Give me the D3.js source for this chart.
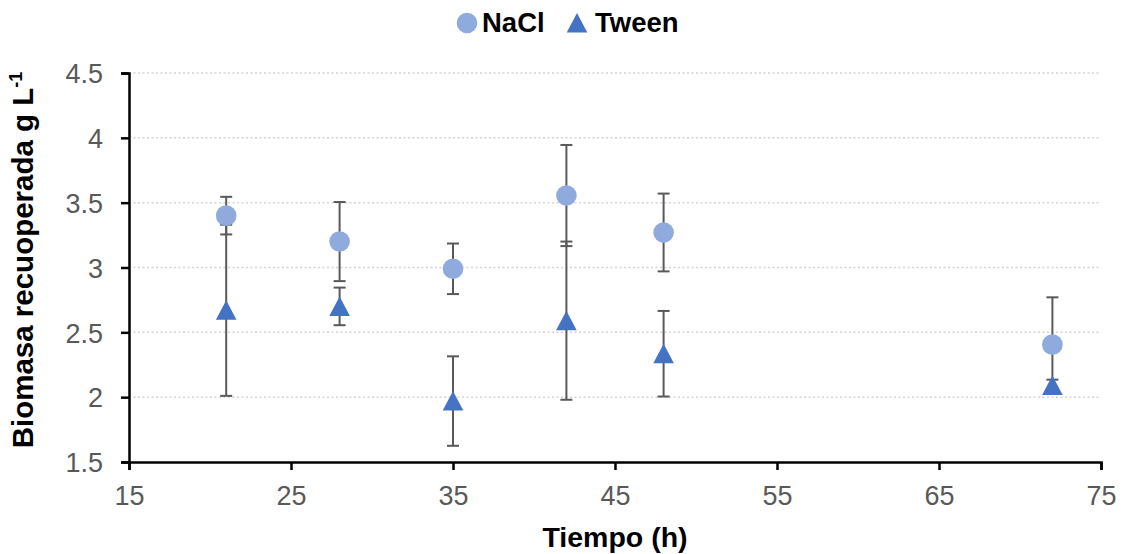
<!DOCTYPE html>
<html lang="es">
<head>
    <meta charset="UTF-8">
    <title>Biomasa recuperada</title>
    <script src="https://cdn.jsdelivr.net/npm/d3@7"></script>
</head>
<style>
    body { margin: 0; background: #fff; }
    svg { font-family: "Liberation Sans", Arial, sans-serif; }
</style>
<body>
</body>
</html>
<script>
    // datos
    var tiempo = [21, 28, 35, 42, 48, 72];
    var nacl = [3.40, 3.20, 2.99, 3.555, 3.27, 2.405];
    var naclErr = [0.145, 0.305, 0.195, 0.39, 0.30, 0.365];
    var tween = [2.67, 2.70, 1.97, 2.59, 2.335, 2.09];
    var tweenErr = [0.66, 0.145, 0.345, 0.61, 0.33, 0.045];
    var xTicks = [15, 25, 35, 45, 55, 65, 75];
    var yTicks = [1.5, 2, 2.5, 3, 3.5, 4, 4.5];

    var w = 1123, h = 554;
    var pLeft = 129, pRight = 1101, pTop = 73, pBottom = 462;

    var svg = d3.select("body").append("svg")
            .attr("width", w)
            .attr("height", h);

    var x = d3.scaleLinear().domain([15, 75]).range([pLeft, pRight]);
    var y = d3.scaleLinear().domain([1.5, 4.5]).range([pBottom, pTop]);

    // lineas de cuadricula
    svg.append("g").selectAll("line")
            .data(yTicks.slice(1))
            .enter().append("line")
            .attr("x1", pLeft).attr("x2", pRight)
            .attr("y1", function (d) { return y(d); })
            .attr("y2", function (d) { return y(d); })
            .attr("stroke", "#d4d4d4")
            .attr("stroke-width", 1.5)
            .attr("stroke-dasharray", "2,2.5");

    // ejes
    var yAxis = svg.append("g")
            .attr("transform", "translate(" + pLeft + ",0)")
            .call(d3.axisLeft(y).tickValues(yTicks).tickSize(8).tickPadding(18)
                    .tickFormat(function (d) { return d; }));
    var xAxis = svg.append("g")
            .attr("transform", "translate(0," + pBottom + ")")
            .call(d3.axisBottom(x).tickValues(xTicks).tickSize(8).tickPadding(16));

    [xAxis, yAxis].forEach(function (g) {
        g.attr("font-size", null).attr("font-family", null);
        g.select(".domain").attr("stroke", "#000").attr("stroke-width", 2.5);
        g.selectAll(".tick line").attr("stroke", "#000").attr("stroke-width", 2.5);
        g.selectAll(".tick text")
                .attr("fill", "#595959")
                .style("font-size", "27px");
    });
    yAxis.selectAll(".tick text").attr("dy", "0.36em");

    // barras de error
    function errorBars(vals, errs, cls) {
        var g = svg.append("g").attr("class", cls);
        var data = tiempo.map(function (t, i) { return {t: t, v: vals[i], e: errs[i]}; });
        g.selectAll("line.v").data(data).enter().append("line")
                .attr("x1", function (d) { return x(d.t); })
                .attr("x2", function (d) { return x(d.t); })
                .attr("y1", function (d) { return y(d.v - d.e); })
                .attr("y2", function (d) { return y(d.v + d.e); })
                .attr("stroke", "#595959").attr("stroke-width", 2);
        [-1, 1].forEach(function (s) {
            g.selectAll("line.c" + s).data(data).enter().append("line")
                    .attr("x1", function (d) { return x(d.t) - 6; })
                    .attr("x2", function (d) { return x(d.t) + 6; })
                    .attr("y1", function (d) { return y(d.v + s * d.e); })
                    .attr("y2", function (d) { return y(d.v + s * d.e); })
                    .attr("stroke", "#595959").attr("stroke-width", 2);
        });
    }
    errorBars(nacl, naclErr, "err-nacl");
    errorBars(tween, tweenErr, "err-tween");

    // marcadores
    svg.append("g").selectAll("circle")
            .data(nacl).enter().append("circle")
            .attr("cx", function (d, i) { return x(tiempo[i]); })
            .attr("cy", function (d) { return y(d); })
            .attr("r", 10.3)
            .attr("fill", "#8faadc");

    function tri(cx, cy) {
        return "M" + cx + "," + (cy - 10) + "L" + (cx + 10.3) + "," + (cy + 9.5) + "L" + (cx - 10.3) + "," + (cy + 9.5) + "Z";
    }
    svg.append("g").selectAll("path")
            .data(tween).enter().append("path")
            .attr("d", function (d, i) { return tri(x(tiempo[i]), y(d)); })
            .attr("fill", "#4472c4");

    // titulos
    svg.append("text")
            .attr("x", (pLeft + pRight) / 2).attr("y", 547)
            .attr("text-anchor", "middle")
            .attr("font-size", "28.5px").attr("font-weight", "bold")
            .text("Tiempo (h)");

    var yt = svg.append("text")
            .attr("transform", "translate(33,260) rotate(-90)")
            .attr("text-anchor", "middle")
            .attr("font-size", "29.5px").attr("font-weight", "bold");
    yt.append("tspan").text("Biomasa recuoperada g L");
    yt.append("tspan").attr("dy", "-0.6em").attr("font-size", "18px").text("-1");

    // leyenda
    var leg = svg.append("g");
    leg.append("circle").attr("cx", 467).attr("cy", 23).attr("r", 10.3).attr("fill", "#8faadc");
    leg.append("text").attr("x", 482).attr("y", 32)
            .attr("font-size", "27.5px").attr("font-weight", "bold").text("NaCl");
    leg.append("path").attr("d", tri(577, 23)).attr("fill", "#4472c4");
    leg.append("text").attr("x", 595).attr("y", 32)
            .attr("font-size", "27.5px").attr("font-weight", "bold").text("Tween");
</script>
